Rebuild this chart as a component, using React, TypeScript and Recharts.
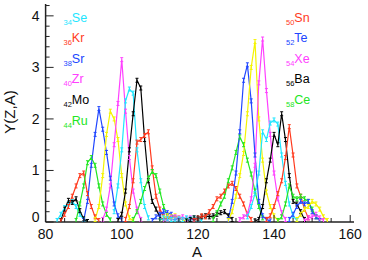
import React from "react";
import { LineChart, Line, XAxis, YAxis } from "recharts";

document.body.style.margin = "0";

// yields Y(Z,A), one array per element, first value at A0
const Se34 = [0.03, 0.15, 0.28, 0.35, 0.4, 0.3, 0.15, 0.05, 0.01];
const Br35 = [0.03, 0.25, 0.42, 0.38, 0.45, 0.22, 0.06, 0.01];
const Kr36 = [0.02, 0.15, 0.3, 0.5, 0.7, 0.9, 0.95, 0.55, 0.3, 0.1, 0.03];
const Rb37 = [0.03, 0.35, 0.7, 1.15, 1.25, 1.1, 0.7, 0.35, 0.15, 0.04];
const Sr38 = [0.03, 0.4, 1.1, 1.7, 2.2, 1.8, 1.35, 0.85, 0.35, 0.12, 0.04];
const Y39 = [0.05, 0.3, 0.9, 1.7, 2.15, 2.0, 1.6, 0.9, 0.35, 0.08, 0.02];
const Zr40 = [0.05, 0.25, 0.7, 1.5, 2.3, 3.15, 2.15, 1.25, 0.6, 0.25, 0.05];
const Nb41 = [0.2, 0.7, 1.4, 2.35, 2.58, 2.5, 1.4, 0.8, 0.3, 0.08];
const Mo42 = [0.03, 0.15, 0.6, 1.4, 2.1, 2.75, 2.6, 1.6, 0.8, 0.4, 0.25, 0.1, 0.03];
const Tc43 = [0.05, 0.3, 0.8, 1.55, 1.6, 1.68, 1.75, 1.05, 0.5, 0.25, 0.1, 0.03];
const Ru44 = [0.05, 0.2, 0.4, 0.65, 0.85, 0.98, 0.9, 0.6, 0.3, 0.12, 0.04];
const Rh45 = [0.03, 0.1, 0.15, 0.2, 0.18, 0.15, 0.08, 0.03];
const Pd46 = [0.03, 0.08, 0.12, 0.1, 0.12, 0.08, 0.04, 0.02];
const Ag47 = [0.02, 0.06, 0.08, 0.1, 0.08, 0.1, 0.06, 0.08, 0.03];
const Cd48 = [0.03, 0.08, 0.06, 0.05, 0.04, 0.06, 0.05, 0.08, 0.06, 0.08, 0.05, 0.03];
const In49 = [0.02, 0.05, 0.08, 0.06, 0.1, 0.12, 0.1, 0.12, 0.15, 0.18, 0.2, 0.12, 0.05];
const Sn50 = [0.03, 0.08, 0.12, 0.1, 0.2, 0.3, 0.45, 0.5, 0.6, 0.7, 0.75, 0.65, 0.5, 0.35, 0.15, 0.05];
const Sb51 = [0.05, 0.18, 0.35, 0.5, 0.8, 1.05, 1.35, 1.65, 1.5, 1.2, 0.93, 0.6, 0.3, 0.08];
const Te52 = [0.05, 0.4, 0.95, 1.75, 2.75, 3.05, 2.35, 1.3, 0.4, 0.12, 0.05, 0.02];
const I53 = [0.03, 0.2, 0.5, 0.9, 1.33, 2.1, 3.0, 3.5, 2.0, 1.2, 0.58, 0.3, 0.12, 0.03];
const Xe54 = [0.05, 0.1, 0.15, 0.45, 1.1, 2.7, 3.55, 2.55, 1.7, 0.95, 0.45, 0.18, 0.05];
const Cs55 = [0.1, 0.3, 0.55, 0.95, 1.75, 1.6, 1.92, 1.98, 1.9, 1.3, 0.75, 0.35, 0.12, 0.03];
const Ba56 = [0.02, 0.05, 0.3, 0.8, 1.2, 1.7, 1.5, 2.1, 1.6, 0.9, 0.4, 0.35, 0.2, 0.05];
const La57 = [0.05, 0.12, 0.3, 0.55, 0.8, 1.25, 1.85, 1.3, 0.7, 0.5, 0.25, 0.08];
const Ce58 = [0.03, 0.1, 0.35, 0.7, 0.5, 0.45, 0.5, 0.45, 0.4, 0.25, 0.1, 0.03];
const Pr59 = [0.05, 0.15, 0.3, 0.4, 0.35, 0.4, 0.2, 0.1, 0.03];
const Nd60 = [0.05, 0.15, 0.25, 0.3, 0.4, 0.35, 0.25, 0.1, 0.03];
const Pm61 = [0.02, 0.08, 0.1, 0.15, 0.08, 0.03];

const elements = [
  { key: "Se", z: 34, a0: 83, y: Se34 },
  { key: "Br", z: 35, a0: 84, y: Br35 },
  { key: "Kr", z: 36, a0: 84, y: Kr36 },
  { key: "Rb", z: 37, a0: 88, y: Rb37 },
  { key: "Sr", z: 38, a0: 90, y: Sr38 },
  { key: "Y", z: 39, a0: 93, y: Y39 },
  { key: "Zr", z: 40, a0: 95, y: Zr40 },
  { key: "Nb", z: 41, a0: 98, y: Nb41 },
  { key: "Mo", z: 42, a0: 99, y: Mo42 },
  { key: "Tc", z: 43, a0: 101, y: Tc43 },
  { key: "Ru", z: 44, a0: 103, y: Ru44 },
  { key: "Rh", z: 45, a0: 108, y: Rh45 },
  { key: "Pd", z: 46, a0: 110, y: Pd46 },
  { key: "Ag", z: 47, a0: 111, y: Ag47 },
  { key: "Cd", z: 48, a0: 110, y: Cd48 },
  { key: "In", z: 49, a0: 117, y: In49 },
  { key: "Sn", z: 50, a0: 119, y: Sn50 },
  { key: "Sb", z: 51, a0: 124, y: Sb51 },
  { key: "Te", z: 52, a0: 128, y: Te52 },
  { key: "I", z: 53, a0: 128, y: I53 },
  { key: "Xe", z: 54, a0: 131, y: Xe54 },
  { key: "Cs", z: 55, a0: 133, y: Cs55 },
  { key: "Ba", z: 56, a0: 135, y: Ba56 },
  { key: "La", z: 57, a0: 138, y: La57 },
  { key: "Ce", z: 58, a0: 141, y: Ce58 },
  { key: "Pr", z: 59, a0: 144, y: Pr59 },
  { key: "Nd", z: 60, a0: 146, y: Nd60 },
  { key: "Pm", z: 61, a0: 148, y: Pm61 },
];

const leftLabels = [
  { z: 34, s: "Se" },
  { z: 36, s: "Kr" },
  { z: 38, s: "Sr" },
  { z: 40, s: "Zr" },
  { z: 42, s: "Mo" },
  { z: 44, s: "Ru" },
];
const rightLabels = [
  { z: 50, s: "Sn" },
  { z: 52, s: "Te" },
  { z: 54, s: "Xe" },
  { z: 56, s: "Ba" },
  { z: 58, s: "Ce" },
];

const X_TICKS = [80, 85, 90, 95, 100, 105, 110, 115, 120, 125, 130, 135, 140, 145, 150, 155, 160];
const Y_TICKS = [0, 0.2, 0.4, 0.6, 0.8, 1, 1.2, 1.4, 1.6, 1.8, 2, 2.2, 2.4, 2.6, 2.8, 3, 3.2, 3.4, 3.6, 3.8, 4, 4.2];

// colour cycles with Z
const palette = ["#1ee6ff", "#000000", "#ff3a1e", "#22e622", "#2046ff", "#f4f400", "#ff40ff"];
const colorOf = (z: number) => palette[(z - 34) % 7];

const rows: Record<string, number>[] = [];
for (let a = 80; a <= 161; a++) {
  const row: Record<string, number> = { A: a };
  elements.forEach((el) => {
    const i = a - el.a0;
    if (i >= 0 && i < el.y.length) row[el.key] = el.y[i];
  });
  rows.push(row);
}

const FONT = "Liberation Sans, Arial, Helvetica, sans-serif";
const AXIS = "#222222";

const isMajorX = (v: number) => v % 20 === 0;
const isMajorY = (v: number) => Math.abs(v - Math.round(v)) < 1e-6;

const BottomTick = ({ x, y, payload }: any) => {
  const major = isMajorX(payload.value);
  return (
    <g>
      <line x1={x} x2={x} y1={y} y2={y - (major ? 7 : 4)} stroke={AXIS} />
      {major && (
        <text x={x} y={y + 17} textAnchor="middle" fontSize={14} fontFamily={FONT} fill="#111">
          {payload.value}
        </text>
      )}
    </g>
  );
};

const TopTick = ({ x, y, payload }: any) => {
  const major = isMajorX(payload.value);
  return <line x1={x} x2={x} y1={y} y2={y + (major ? 7 : 4)} stroke={AXIS} />;
};

const LeftTick = ({ x, y, payload }: any) => {
  const major = isMajorY(payload.value);
  return (
    <g>
      <line x1={x} x2={x + (major ? 8 : 4)} y1={y} y2={y} stroke={AXIS} />
      {major && (
        <text
          x={x - 6}
          y={payload.value === 0 ? y : y + 5}
          textAnchor="end"
          fontSize={14}
          fontFamily={FONT}
          fill="#111"
        >
          {payload.value}
        </text>
      )}
    </g>
  );
};

const RightTick = ({ x, y, payload }: any) => {
  const major = isMajorY(payload.value);
  return <line x1={x} x2={x - (major ? 8 : 4)} y1={y} y2={y} stroke={AXIS} />;
};

const errDot = (color: string) => (props: any) => {
  const { cx, cy, key } = props;
  if (cx == null || cy == null) return <g key={key} />;
  return (
    <g key={key} stroke={color} strokeWidth={1}>
      <line x1={cx} x2={cx} y1={cy - 2} y2={cy + 2} />
      <line x1={cx - 1.5} x2={cx + 1.5} y1={cy - 2} y2={cy - 2} />
      <line x1={cx - 1.5} x2={cx + 1.5} y1={cy + 2} y2={cy + 2} />
    </g>
  );
};

const Labels = () => (
  <svg width={368} height={260} style={{ position: "absolute", left: 0, top: 0, pointerEvents: "none" }}>
    {leftLabels.map((l, i) => (
      <text key={l.s} x={63.5} y={21.5 + i * 20.6} fontFamily={FONT} fill={colorOf(l.z)}>
        <tspan fontSize={7.5} dy={3}>{l.z}</tspan>
        <tspan fontSize={12.5} dy={-3}>{l.s}</tspan>
      </text>
    ))}
    {rightLabels.map((l, i) => (
      <text key={l.s} x={286} y={21.5 + i * 20.6} fontFamily={FONT} fill={colorOf(l.z)}>
        <tspan fontSize={7.5} dy={3}>{l.z}</tspan>
        <tspan fontSize={12.5} dy={-3}>{l.s}</tspan>
      </text>
    ))}
    <text x={197} y={257} textAnchor="middle" fontSize={15} fontFamily={FONT} fill="#111">
      A
    </text>
    <text
      x={0}
      y={0}
      transform="translate(15,112) rotate(-90)"
      textAnchor="middle"
      fontSize={15}
      fontFamily={FONT}
      fill="#111"
    >
      Y(Z,A)
    </text>
  </svg>
);

const App: React.FC = () => {
  return (
    <div style={{ position: "relative", width: 368, height: 260, background: "#fff" }}>
      <LineChart width={368} height={260} data={rows} margin={{ top: 4, right: 14, bottom: 8, left: 5.6 }}>
        <XAxis
          dataKey="A"
          type="number"
          domain={[80, 161]}
          ticks={X_TICKS}
          interval={0}
          allowDataOverflow
          height={30}
          tickSize={0}
          tickMargin={0}
          tickLine={false}
          tick={<BottomTick />}
          axisLine={{ stroke: AXIS, strokeWidth: 1.5 }}
        />
        <XAxis
          xAxisId="top"
          orientation="top"
          dataKey="A"
          type="number"
          domain={[80, 161]}
          ticks={X_TICKS}
          interval={0}
          allowDataOverflow
          height={0}
          tickSize={0}
          tickMargin={0}
          tickLine={false}
          tick={<TopTick />}
          axisLine={{ stroke: AXIS, strokeWidth: 1.5 }}
        />
        <YAxis
          type="number"
          domain={[0, 4.23]}
          ticks={Y_TICKS}
          interval={0}
          allowDataOverflow
          width={40}
          tickSize={0}
          tickMargin={0}
          tickLine={false}
          tick={<LeftTick />}
          axisLine={{ stroke: AXIS, strokeWidth: 1.5 }}
        />
        <YAxis
          yAxisId="right"
          orientation="right"
          type="number"
          domain={[0, 4.23]}
          ticks={Y_TICKS}
          interval={0}
          allowDataOverflow
          width={0}
          tickSize={0}
          tickMargin={0}
          tickLine={false}
          tick={<RightTick />}
          axisLine={{ stroke: AXIS, strokeWidth: 1.5 }}
        />
        {elements.map((el) => (
          <Line
            key={el.key}
            dataKey={el.key}
            type="linear"
            stroke={colorOf(el.z)}
            strokeWidth={1.2}
            dot={errDot(colorOf(el.z))}
            activeDot={false}
            isAnimationActive={false}
          />
        ))}
      </LineChart>
      <Labels />
    </div>
  );
};

export default App;
